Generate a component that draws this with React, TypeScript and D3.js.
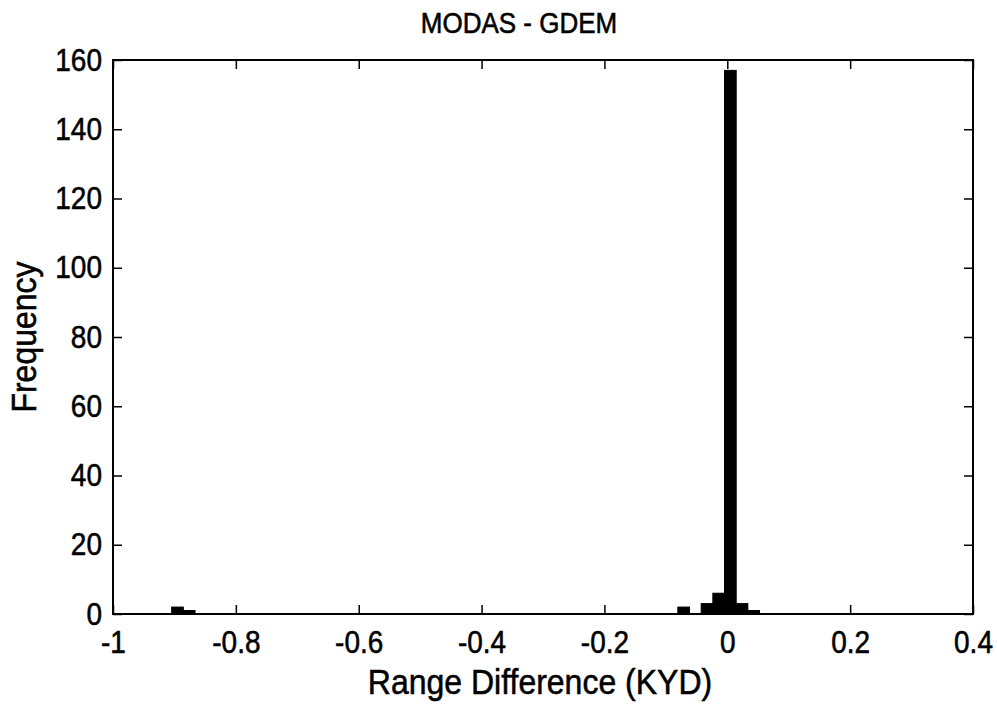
import { useEffect, useRef } from 'react';
import * as d3 from 'd3';

// histogram bins
const binCenters = [-0.895, -0.876, -0.071, -0.033, -0.014, 0.005, 0.024, 0.043];
const binCounts = [2, 1, 2, 3, 6, 157, 3, 1];
const binWidth = 0.019;

const xTicks = [-1, -0.8, -0.6, -0.4, -0.2, 0, 0.2, 0.4];
const yTicks = [0, 20, 40, 60, 80, 100, 120, 140, 160];

const title = 'MODAS - GDEM';
const xLabel = 'Range Difference (KYD)';
const yLabel = 'Frequency';

export default function App() {
  const svgRef = useRef<SVGSVGElement>(null);

  useEffect(() => {
    if (!svgRef.current) return;
    const W = 997;
    const H = 707;
    const m = { top: 60, right: 24, bottom: 93, left: 113 };
    const width = W - m.left - m.right;
    const height = H - m.top - m.bottom;
    const font = '"Liberation Sans", Arial, Helvetica, sans-serif';
    const stretch = 1.12; // scanned text looks taller than normal

    d3.select(svgRef.current).selectAll('*').remove();
    const svg = d3.select(svgRef.current).attr('width', W).attr('height', H);
    svg.append('rect').attr('width', W).attr('height', H).attr('fill', '#fff');

    const g = svg.append('g').attr('transform', `translate(${m.left},${m.top})`);

    const x = d3.scaleLinear().domain([-1, 0.4]).range([0, width]);
    const y = d3.scaleLinear().domain([0, 160]).range([height, 0]);

    // bars
    g.selectAll('.bar')
      .data(binCenters.map((c, i) => ({ c, n: binCounts[i] })))
      .enter()
      .append('rect')
      .attr('class', 'bar')
      .attr('x', d => x(d.c - binWidth / 2))
      .attr('y', d => y(d.n))
      .attr('width', d => x(d.c + binWidth / 2) - x(d.c - binWidth / 2))
      .attr('height', d => height - y(d.n))
      .attr('fill', '#000')
      .attr('stroke', '#000')
      .attr('stroke-width', 1);

    // axes, ticks inside (matlab style box)
    const tickLen = 9;
    const styleAxis = (sel: d3.Selection<SVGGElement, unknown, null, undefined>, showText: boolean) => {
      sel.select('.domain').remove();
      sel.selectAll('line').attr('stroke', '#000').attr('stroke-width', 1.5);
      sel.selectAll('text')
        .style('font-family', font)
        .style('font-size', '28px')
        .attr('fill', '#000')
        .attr('stroke', '#000')
        .attr('stroke-width', 0.5)
        .style('display', showText ? null : 'none');
    };

    const fmt = (d: d3.NumberValue) => String(+d);

    const xAxis = g.append('g')
      .attr('transform', `translate(0,${height})`)
      .call(d3.axisBottom(x).tickValues(xTicks).tickSizeInner(-tickLen).tickSizeOuter(0).tickPadding(tickLen + 6).tickFormat(fmt))
      .call(s => styleAxis(s, true));
    xAxis.selectAll('text').attr('transform', `scale(1,${stretch})`);

    g.append('g')
      .call(d3.axisTop(x).tickValues(xTicks).tickSizeInner(-tickLen).tickSizeOuter(0).tickFormat(fmt))
      .call(s => styleAxis(s, false));

    const yAxis = g.append('g')
      .call(d3.axisLeft(y).tickValues(yTicks).tickSizeInner(-tickLen).tickSizeOuter(0).tickPadding(tickLen + 2).tickFormat(fmt))
      .call(s => styleAxis(s, true));
    yAxis.selectAll('text').attr('transform', `scale(1,${stretch})`);

    g.append('g')
      .attr('transform', `translate(${width},0)`)
      .call(d3.axisRight(y).tickValues(yTicks).tickSizeInner(-tickLen).tickSizeOuter(0).tickFormat(fmt))
      .call(s => styleAxis(s, false));

    // frame
    g.append('rect')
      .attr('width', width)
      .attr('height', height)
      .attr('fill', 'none')
      .attr('stroke', '#000')
      .attr('stroke-width', 2);

    // title and labels
    const label = (tx: number, ty: number, rot: number, size: number, text: string) =>
      svg.append('text')
        .attr('transform', `translate(${tx},${ty}) rotate(${rot}) scale(1,${stretch})`)
        .attr('text-anchor', 'middle')
        .attr('fill', '#000')
        .attr('stroke', '#000')
        .attr('stroke-width', 0.5)
        .style('font-family', font)
        .style('font-size', `${size}px`)
        .text(text);

    label(m.left + width / 2 - 24, 33, 0, 26, title);
    label(m.left + width / 2 - 3, 694, 0, 32, xLabel);
    label(36, m.top + height / 2, -90, 32, yLabel);
  }, []);

  return (
    <div style={{ position: 'fixed', left: 0, top: 0 }}>
      <svg ref={svgRef} />
    </div>
  );
}
